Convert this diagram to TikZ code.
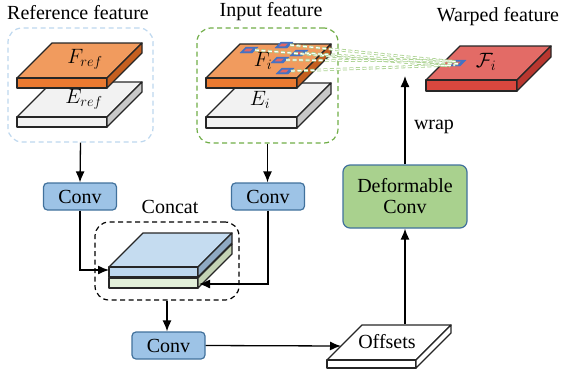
\documentclass[tikz,border=0pt]{standalone}
\usepackage{fontspec}
\setmainfont{Liberation Serif}
\usetikzlibrary{arrows.meta}
\definecolor{ortop}{HTML}{F19B5E}
\definecolor{orfront}{HTML}{EB7A31}
\definecolor{orside}{HTML}{C55F20}
\definecolor{grtop}{HTML}{F2F2F2}
\definecolor{grside}{HTML}{C8C8C8}
\definecolor{rdtop}{HTML}{E36B66}
\definecolor{rdfront}{HTML}{D9473E}
\definecolor{rdside}{HTML}{B9372F}
\definecolor{bltop}{HTML}{C5DCF0}
\definecolor{blfront}{HTML}{BDD7EE}
\definecolor{blside}{HTML}{8FA9C2}
\definecolor{gntop}{HTML}{E2EFD9}
\definecolor{gnfront}{HTML}{E2EFD9}
\definecolor{gnside}{HTML}{C3D2B4}
\definecolor{convfill}{HTML}{9DC3E6}
\definecolor{convline}{HTML}{41719C}
\definecolor{dcfill}{HTML}{A9D18E}
\definecolor{refdash}{HTML}{BDD7EE}
\definecolor{indash}{HTML}{70AD47}
\definecolor{linkgreen}{HTML}{A9D18E}
\definecolor{patchblue}{HTML}{4472C4}
\definecolor{patchred}{HTML}{E06666}
\definecolor{edge}{HTML}{262626}
\newcommand{\slabdraw}[8]{%
  \filldraw[slabline, fill=#6] (#1,#2) -- ++(#3,0) -- ++(#5,-#5) -- ++(-#3,0) -- cycle;
  \filldraw[slabline, fill=#7] (#1,#2) rectangle ++(#3,#4);
  \filldraw[slabline, fill=#8] (#1+#3,#2) -- ++(#5,-#5) -- ++(0,#4) -- ++(-#5,#5) -- cycle;
}
\newcommand{\patchdraw}[2]{%
  \filldraw[draw=patchblue, fill=patchblue, line width=0.4pt] (#1,#2) -- ++(12,0) -- ++(6,-6) -- ++(-12,0) -- cycle;
  \fill[patchred] (#1+3.8,#2-1.6) -- ++(6.2,0) -- ++(2.8,-2.8) -- ++(-6.2,0) -- cycle;
}
\tikzset{
  slabline/.style={draw=edge, line width=1.3pt, line join=round},
  txt/.style={font=\fontsize{20}{22}\selectfont, inner sep=0pt},
  mtxt/.style={font=\fontsize{22}{24}\selectfont, inner sep=0pt},
  convbox/.style={txt, draw=convline, fill=convfill, rounded corners=4pt, line width=1.2pt, minimum width=73pt, minimum height=27pt},
  dcbox/.style={txt, draw=convline, fill=dcfill, rounded corners=7pt, line width=1.2pt, minimum width=124pt, minimum height=63pt, align=center},
  groupbox/.style={draw, dashed, dash pattern=on 5pt off 3.5pt, rounded corners=14pt, line width=1.2pt, inner sep=0pt},
  arr/.style={-{Latex[length=11pt,width=9pt]}, line width=1.3pt, draw=black},
  link/.style={draw=linkgreen, dash pattern=on 4pt off 2.5pt, line width=0.8pt, double=white, double distance=1.2pt},
}
\begin{document}
\begin{tikzpicture}[x=1pt,y=-1pt]
\useasboundingbox (0,0) rectangle (564,375);
% titles
\node[txt] (tref) at (78,13) {Reference feature};
\node[txt] (tin) at (271,12) {Input feature};
\node[txt] (twarp) at (498,17) {Warped feature};
% group boxes
\node[groupbox, draw=refdash, minimum width=145pt, minimum height=114pt] (refbox) at (80.5,85) {};
\node[groupbox, draw=indash, minimum width=141pt, minimum height=115pt] (inbox) at (267.5,85.5) {};
% reference slabs
\slabdraw{17}{117}{90}{10}{35}{grtop}{grtop}{grside}
\slabdraw{17}{78}{90}{10}{35}{ortop}{orfront}{orside}
\node[mtxt] (lfref) at (85,59) {$F_{ref}$};
\node[mtxt] (leref) at (84,99) {$E_{ref}$};
% input slabs
\slabdraw{206}{117}{91}{11}{34}{grtop}{grtop}{grside}
\slabdraw{206}{78}{91}{10}{34}{ortop}{orfront}{orside}
\node[mtxt] (lfi) at (263,61) {$F_i$};
\node[mtxt] (lei) at (260,100) {$E_i$};
% warped slab
\slabdraw{426}{80}{91}{11}{34}{rdtop}{rdfront}{rdside}
\node[mtxt] (lwarp) at (486,62) {$\mathcal{F}_i$};
% patches
\patchdraw{240}{53}
\patchdraw{275}{48}
\patchdraw{290}{56}
\patchdraw{271}{63}
\patchdraw{276}{74}
\patchdraw{448}{66}
\coordinate (p1) at (255,50);
\coordinate (p2) at (290,45);
\coordinate (p3) at (305,53);
\coordinate (p4) at (286,60);
\coordinate (p5) at (291,71);
\coordinate (w1) at (452,61);
\coordinate (w2) at (458,62);
\coordinate (w3) at (460,64);
\coordinate (w4) at (455,65);
\coordinate (w5) at (450,66);
\draw[link] (p1) -- (w5);
\draw[link] (p2) -- (w2);
\draw[link] (p3) -- (w3);
\draw[link] (p4) -- (w1);
\draw[link] (p5) -- (w4);
% concat
\node[groupbox, draw=black, minimum width=144pt, minimum height=78pt] (catbox) at (167,261) {};
\node[txt] (lcat) at (170,207) {Concat};
\slabdraw{109}{278}{89}{10}{34}{gntop}{gnfront}{gnside}
\slabdraw{109}{267}{89}{10}{34}{bltop}{blfront}{blside}
\coordinate (bluein) at (109,270);
\coordinate (greenin) at (199,284);
% conv boxes
\node[convbox] (conv1) at (80,196.5) {Conv};
\node[convbox] (conv2) at (268,196.5) {Conv};
\node[convbox] (conv3) at (168.5,345.5) {Conv};
% offsets
\slabdraw{327}{360}{89}{8}{35}{white}{white}{white}
\node[txt] (loff) at (387,342) {Offsets};
\coordinate (offin) at (341,346);
\coordinate (offtop) at (405,324);
% deformable conv
\node[dcbox] (dconv) at (405,196.5) {Deformable\\[-1pt]Conv};
\coordinate (warpin) at (405,76);
\node[txt] (lwrap) at (434,127) {wrap};
% arrows
\draw[arr] (refbox.south) -- (conv1.north);
\draw[arr] (inbox.south) -- (conv2.north -| inbox.south);
\draw[arr] (conv1.south) |- (bluein);
\draw[arr] (conv2.south) |- (greenin);
\draw[arr] (catbox.south) -- (catbox.south |- conv3.north);
\draw[arr] (conv3.east) -- (offin);
\draw[arr] (offtop) -- (dconv.south);
\draw[arr] (dconv.north) -- (warpin);
\end{tikzpicture}
\end{document}
